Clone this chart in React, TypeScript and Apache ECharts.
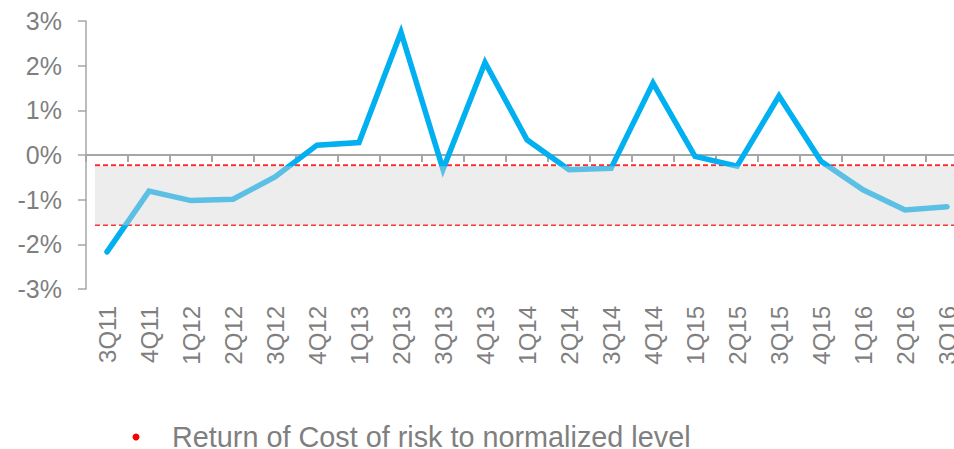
import React, { useEffect, useRef } from "react";
import * as echarts from "echarts";

const categories = [
  "3Q11", "4Q11", "1Q12", "2Q12", "3Q12", "4Q12", "1Q13", "2Q13", "3Q13", "4Q13",
  "1Q14", "2Q14", "3Q14", "4Q14", "1Q15", "2Q15", "3Q15", "4Q15", "1Q16", "2Q16", "3Q16",
];
const costOfRisk = [
  -2.17, -0.81, -1.02, -0.99, -0.49, 0.22, 0.28, 2.75, -0.32, 2.07,
  0.34, -0.33, -0.3, 1.61, -0.03, -0.25, 1.32, -0.14, -0.78, -1.23, -1.16,
];
const normalizedUpper = -0.23;
const normalizedLower = -1.57;
const bandStart = 0.214; // in category-width units from the axis start
const bandEnd = 21;
const legendLabel = "Return of Cost of risk to normalized level";
const yTicks = { min: -3, max: 3, interval: 1 };

const FONT = "'Liberation Sans', Arial, sans-serif";
const GRAY = "#7F7F7F";
const AXIS = "#A6A6A6";
const RED = "#FF2A2A";

export default function App() {
  const ref = useRef<HTMLDivElement>(null);
  useEffect(() => {
    if (!ref.current) return;
    const chart = echarts.init(ref.current, undefined, { renderer: "svg" });
    const dashedSeries = (name: string, value: number) => ({
      name,
      type: "line",
      xAxisIndex: 1,
      data: [
        [bandStart, value],
        [bandEnd, value],
      ],
      symbol: "none",
      showSymbol: false,
      silent: true,
      z: 1,
      lineStyle: { color: RED, width: 1.8, type: [5, 3] },
      itemStyle: { color: RED },
    });
    chart.setOption({
      animation: false,
      backgroundColor: "#ffffff",
      grid: { left: 86, right: 0, top: 21, bottom: 160, containLabel: false },
      graphic: [
        {
          type: "circle",
          shape: { cx: 136, cy: 437, r: 3.5 },
          style: { fill: "#F00000" },
          silent: true,
        },
        {
          type: "text",
          x: 172,
          y: 437,
          silent: true,
          style: {
            text: legendLabel,
            fill: GRAY,
            font: `28.8px ${FONT}`,
            lineHeight: 22,
            verticalAlign: "middle",
          },
        },
      ],
      xAxis: [
        {
          type: "category",
          data: categories,
          boundaryGap: true,
          position: "bottom",
          axisLine: { show: false, onZero: false },
          axisTick: { show: false },
          axisLabel: {
            interval: 0,
            rotate: 90,
            margin: 17,
            color: GRAY,
            fontSize: 24,
            fontFamily: FONT,
          },
          splitLine: { show: false },
        },
        {
          type: "value",
          min: 0,
          max: categories.length,
          interval: 1,
          position: "bottom",
          axisLine: { show: true, onZero: true, lineStyle: { color: AXIS, width: 2 } },
          axisTick: { show: true, length: 7, lineStyle: { color: AXIS, width: 2 } },
          axisLabel: { show: false },
          splitLine: { show: false },
        },
      ],
      yAxis: {
        type: "value",
        min: yTicks.min,
        max: yTicks.max,
        interval: yTicks.interval,
        axisLine: { show: true, lineStyle: { color: AXIS, width: 1.5 } },
        axisTick: { show: true, length: 8, lineStyle: { color: AXIS, width: 1.5 } },
        axisLabel: {
          formatter: "{value}%",
          color: GRAY,
          fontSize: 25,
          fontFamily: FONT,
          margin: 24,
        },
        splitLine: { show: false },
      },
      series: [
        dashedSeries("Normalized upper", normalizedUpper),
        dashedSeries("Normalized lower", normalizedLower),
        {
          name: "Cost of risk",
          type: "line",
          xAxisIndex: 0,
          data: costOfRisk,
          showSymbol: false,
          symbol: "none",
          z: 2,
          lineStyle: { color: "#00B0F0", width: 5.5, cap: "round", join: "miter" },
          itemStyle: { color: "#00B0F0" },
        },
        {
          name: legendLabel,
          type: "line",
          xAxisIndex: 1,
          data: [],
          symbol: "none",
          markArea: {
            z: 3,
            silent: true,
            itemStyle: { color: "rgba(213,213,213,0.43)" },
            data: [
              [
                { coord: [bandStart, normalizedUpper - 0.02] },
                { coord: [bandEnd, normalizedLower] },
              ],
            ],
          },
        },
      ],
    });
    return () => chart.dispose();
  }, []);
  return (
    <div
      style={{
        position: "fixed",
        left: 0,
        top: 0,
        width: 954,
        height: 449,
        overflow: "hidden",
        background: "#fff",
      }}
    >
      <div ref={ref} style={{ position: "absolute", left: 0, top: 0, width: 968, height: 449 }} />
    </div>
  );
}
